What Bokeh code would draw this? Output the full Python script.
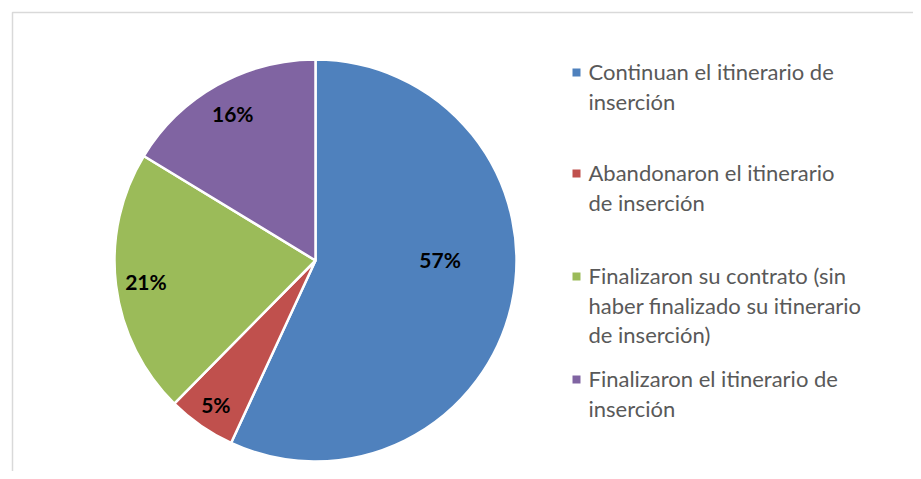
import math
from bokeh.plotting import figure
from bokeh.models import Range1d, ColumnDataSource
from bokeh.core.properties import value
from bokeh.embed import file_html
from bokeh.resources import INLINE

# ---- data ----
categories = [
    "Continuan el itinerario de\ninserción",
    "Abandonaron el itinerario\nde inserción",
    "Finalizaron su contrato (sin\nhaber finalizado su itinerario\nde inserción)",
    "Finalizaron el itinerario de\ninserción",
]
shares = [56.9, 5.5, 21.3, 16.3]
pct_labels = ["57%", "5%", "21%", "16%"]
colors = ["#4F81BD", "#C0504D", "#9BBB59", "#8064A2"]

# ---- layout (style) ----
W, H = 913, 471
def fy(py):  # page y -> data y
    return H - py
def fx(px):
    return px

cx, cy, R = fx(315), fy(260), 201
label_r = [0.62, 0.87, 0.85, 0.84]
label_shift = [-13, 0, 0, 0]  # degrees

p = figure(width=W, height=H, x_range=Range1d(0, W), y_range=Range1d(0, H),
           x_axis_type=None, y_axis_type=None, toolbar_location=None,
           output_backend="svg", min_border=0)
p.grid.visible = False
p.outline_line_color = None
p.background_fill_color = "white"

# chart border (top/left visible)
p.quad(left=[fx(12)], right=[W + 20], top=[fy(12)], bottom=[-20],
       fill_color=None, line_color="#D9D9D9", line_width=1.5)

total = sum(shares)
starts, ends, mids = [], [], []
cum = 0.0
for s in shares:
    a0 = cum / total
    cum += s
    a1 = cum / total
    starts.append(math.pi / 2 - a0 * 2 * math.pi)
    ends.append(math.pi / 2 - a1 * 2 * math.pi)
    mids.append((a0 + a1) / 2 * 360)

src = ColumnDataSource(dict(start=starts, end=ends, color=colors))
p.wedge(x=cx, y=cy, radius=R, start_angle="start", end_angle="end",
        direction="clock", fill_color="color", line_color="white",
        line_width=2.5, source=src)

lx, ly = [], []
for i, m in enumerate(mids):
    th = math.radians(m + label_shift[i])
    lx.append(cx + R * label_r[i] * math.sin(th))
    ly.append(cy + R * label_r[i] * math.cos(th))
p.text(x=lx, y=ly, text=pct_labels, text_align="center", text_baseline="middle",
       text_font=value("Lato"), text_font_style="bold", text_font_size="21px",
       text_color="black")

# legend
first_line_py = [71, 172, 275, 378]
line_h = 29.5
tx, ty, tt = [], [], []
for i, cat in enumerate(categories):
    for j, line in enumerate(cat.split("\n")):
        tx.append(fx(588))
        ty.append(fy(first_line_py[i] + j * line_h))
        tt.append(line)
p.text(x=tx, y=ty, text=tt, text_align="left", text_baseline="middle",
       text_font=value("Lato"), text_font_size="22px", text_color="#595959")
p.scatter(x=[fx(576)] * 4, y=[fy(v + 1) for v in first_line_py], marker="square",
          size=8, fill_color=colors, line_color=None)

open("out.html", "w").write(file_html(p, INLINE))
